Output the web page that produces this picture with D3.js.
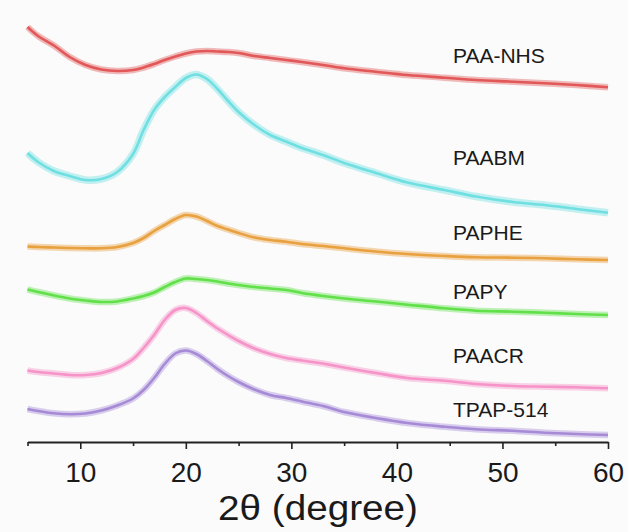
<!DOCTYPE html>
<html>
<head>
<meta charset="utf-8">
<script src="https://cdn.jsdelivr.net/npm/d3@7"></script>
<style>
  html, body { margin: 0; padding: 0; background: #fbfbfb; }
  svg { display: block; }
  text { font-family: "Liberation Sans", Arial, Helvetica, sans-serif; fill: #1a1a1a; }
</style>
</head>
<body>
<svg id="chart" width="628" height="532"></svg>
<script>
// 2θ positions (degree)
const twoTheta = [5, 6, 7.5, 9, 10.5, 12, 13.5, 15, 16, 17, 18, 19, 20, 21, 22, 23, 24, 25, 26.5, 28, 29.5, 31, 33, 35, 38, 41, 44.5, 47.5, 51, 54, 57, 60];

// Intensities (a.u., stacked offsets as in the figure)
const paaNhs = [415, 406, 396.5, 385, 377, 372.5, 371, 372, 374.5, 378, 382, 385.5, 388.5, 390.5, 391, 390.5, 390, 389, 386, 384, 382, 380, 377, 373.7, 370.3, 367, 364.3, 362, 360.3, 358.7, 357, 354.7];
const paabm = [289, 280, 271, 266, 262, 263, 270, 288, 312, 332, 345, 355, 364, 367.5, 363, 353, 341, 330, 317, 307, 300.5, 294, 287, 279, 269, 259.5, 252, 245.5, 240, 237, 233, 229.3];
const paphe = [195.5, 195, 194.5, 194, 193.7, 193.7, 195, 199, 204, 211, 217, 223, 227, 225.5, 221, 216, 212.5, 209, 204.5, 202, 200.3, 198, 196, 193.7, 190.5, 188, 186, 184.7, 184.3, 183.7, 182.7, 182];
const papy = [152.5, 150, 146.5, 143.5, 141.5, 140, 140.5, 143.5, 146, 149.5, 155, 160, 163.5, 163, 162, 160.5, 158.5, 157, 155, 153.5, 152, 149, 146, 143.5, 140.5, 137.3, 133.7, 131.3, 130.3, 129.3, 128, 127];
const paacr = [71.5, 70, 68.5, 67, 67, 69, 74, 83, 94, 107, 122, 132, 134, 129, 121, 113.5, 107, 101, 93.5, 88, 84, 81.5, 78.5, 74.5, 69, 64, 61.2, 58, 56, 55.3, 54.7, 53.7];
const tpap514 = [33, 31, 28.7, 27.7, 28.5, 31.5, 36.5, 43.5, 52, 64, 78, 88.5, 91.5, 88, 81, 73, 66, 60, 52.5, 47, 44, 40.5, 36, 30, 24, 19, 15.2, 12.7, 11.2, 9.3, 8, 7];

const seriesNames = ["PAA-NHS", "PAABM", "PAPHE", "PAPY", "PAACR", "TPAP-514"];
const seriesValues = [paaNhs, paabm, paphe, papy, paacr, tpap514];

const majorTicks = [10, 20, 30, 40, 50, 60];
const minorTicks = [5, 15, 25, 35, 45, 55];
const xTitle = "2θ (degree)";

// ---- styling / layout ----
const colors = ["#e25757", "#6fdfe2", "#e8a13e", "#62e04a", "#f693c8", "#a68ad6"];
const labelLevel = [379, 277, 202, 143, 79, 25]; // label baselines in intensity units

const svg = d3.select("#chart");
const x = d3.scaleLinear().domain([5, 60]).range([27.5, 608]);
const y = d3.scaleLinear().domain([0, 430]).range([442, 12]);

const line = d3.line()
  .x((d, i) => x(twoTheta[i]))
  .y(d => y(d))
  .curve(d3.curveCatmullRom.alpha(0.5));

const g = svg.append("g");
seriesValues.forEach((vals, k) => {
  g.append("path")
    .attr("d", line(vals))
    .attr("fill", "none")
    .attr("stroke", colors[k])
    .attr("stroke-width", k === 1 ? 7.5 : 6.5)
    .attr("stroke-opacity", 0.4)
    .attr("stroke-linejoin", "round");
  g.append("path")
    .attr("d", line(vals))
    .attr("fill", "none")
    .attr("stroke", colors[k])
    .attr("stroke-width", 2.6)
    .attr("stroke-linejoin", "round");
});

// series labels
seriesNames.forEach((name, k) => {
  svg.append("text")
    .attr("x", 453)
    .attr("y", y(labelLevel[k]))
    .attr("font-size", 21)
    .text(name);
});

// x axis
const axisG = svg.append("g").attr("transform", `translate(0,${y(0)})`);
axisG.call(d3.axisBottom(x).tickValues(majorTicks).tickSize(7).tickSizeOuter(0).tickFormat(d3.format("d")));
axisG.select(".domain").attr("stroke", "#222").attr("stroke-width", 2);
axisG.selectAll(".tick line").attr("stroke", "#222").attr("stroke-width", 1.6);
axisG.selectAll(".tick text")
  .attr("font-size", 28)
  .attr("font-family", "Liberation Sans, Arial, sans-serif")
  .attr("fill", "#1a1a1a")
  .attr("dy", null)
  .attr("y", 40);

const minorG = svg.append("g").attr("transform", `translate(0,${y(0)})`);
minorG.call(d3.axisBottom(x).tickValues(minorTicks).tickSize(4).tickFormat(""));
minorG.select(".domain").remove();
minorG.selectAll(".tick line").attr("stroke", "#222").attr("stroke-width", 1.6);

// axis title
svg.append("text")
  .attr("x", 318)
  .attr("y", 520)
  .attr("text-anchor", "middle")
  .attr("font-size", 35)
  .attr("textLength", 200)
  .attr("lengthAdjust", "spacingAndGlyphs")
  .text(xTitle);
</script>
</body>
</html>
